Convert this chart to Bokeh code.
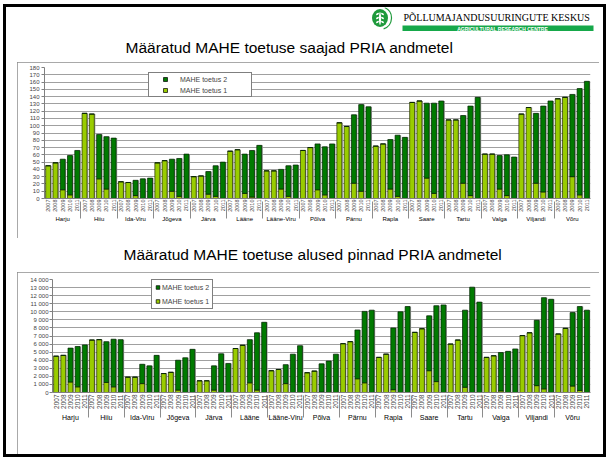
import math
from bokeh.plotting import figure
from bokeh.models import (ColumnDataSource, FactorRange, Range1d, FixedTicker,
                          Legend, LegendItem, Spacer)
from bokeh.layouts import column, row
from bokeh.transform import dodge
from bokeh.core.properties import value
from bokeh.embed import file_html
from bokeh.resources import INLINE

# ---------------- data ----------------
counties = ["Harju", "Hiiu", "Ida-Viru", "Jõgeva", "Järva", "Lääne", "Lääne-Viru",
            "Põlva", "Pärnu", "Rapla", "Saare", "Tartu", "Valga", "Viljandi", "Võru"]
years = ["2007", "2008", "2009", "2010", "2011"]
series_labels = ["MAHE toetus 2", "MAHE toetus 1"]

title_top = "Määratud MAHE toetuse saajad PRIA andmetel"
title_bottom = "Määratud MAHE toetuse alused pinnad PRIA andmetel"

# recipients (count), per county 2007..2011
saajad_toetus1 = [
    45, 49, 12, 5, 0,
    117, 116, 27, 13, 0,
    23, 22, 4, 0, 0,
    49, 52, 10, 3, 0,
    30, 31, 6, 3, 0,
    65, 67, 7, 2, 0,
    38, 38, 13, 3, 0,
    66, 70, 12, 5, 0,
    104, 99, 21, 10, 0,
    72, 75, 13, 3, 0,
    132, 134, 28, 7, 0,
    108, 108, 21, 4, 0,
    61, 61, 13, 4, 0,
    116, 125, 21, 9, 0,
    137, 139, 30, 5, 0,
]
saajad_toetus2 = [
    0, 0, 42, 54, 66,
    0, 0, 61, 72, 83,
    0, 0, 21, 27, 28,
    0, 0, 44, 52, 61,
    0, 0, 31, 42, 50,
    0, 0, 54, 64, 73,
    0, 0, 27, 42, 46,
    0, 0, 63, 66, 75,
    0, 0, 94, 119, 126,
    0, 0, 68, 84, 84,
    0, 0, 103, 124, 134,
    0, 0, 93, 123, 139,
    0, 0, 46, 56, 57,
    0, 0, 96, 118, 134,
    0, 0, 113, 146, 161,
]
# areas (ha), per county 2007..2011
pinnad_toetus1 = [
    4500, 4600, 1300, 700, 0,
    6500, 6550, 1250, 700, 0,
    1900, 1900, 1100, 0, 0,
    2350, 2500, 300, 0, 0,
    1450, 1450, 300, 0, 0,
    5450, 5850, 1200, 300, 0,
    2700, 2850, 1100, 0, 0,
    2450, 2650, 50, 0, 0,
    6050, 6300, 1700, 1200, 0,
    4350, 4750, 350, 0, 0,
    7450, 7900, 2700, 1350, 0,
    6000, 6500, 650, 0, 0,
    4350, 4550, 200, 0, 0,
    7050, 7400, 850, 450, 0,
    7250, 7950, 800, 250, 0,
]
pinnad_toetus2 = [
    0, 0, 4200, 5000, 5900,
    0, 0, 5050, 5900, 6550,
    0, 0, 2400, 3300, 4600,
    0, 0, 3700, 4300, 5350,
    0, 0, 3000, 4800, 3600,
    0, 0, 5350, 7100, 8700,
    0, 0, 2350, 4750, 5800,
    0, 0, 3500, 3900, 4750,
    0, 0, 6050, 8850, 10200,
    0, 0, 7650, 10000, 10650,
    0, 0, 6800, 9400, 10850,
    0, 0, 9550, 13050, 11200,
    0, 0, 4750, 5100, 5400,
    0, 0, 8100, 11300, 11550,
    0, 0, 9100, 10400, 10200,
]

saajad_ticks = [0, 10, 20, 30, 40, 50, 60, 70, 80, 90, 100, 110, 120, 130, 140, 150, 160, 170, 180]
saajad_tick_labels = [str(t) for t in saajad_ticks]
pinnad_ticks = [0, 1000, 2000, 3000, 4000, 5000, 6000, 7000, 8000, 9000, 10000, 11000, 12000, 13000, 14000]
pinnad_tick_labels = ["0", "1 000", "2 000", "3 000", "4 000", "5 000", "6 000", "7 000", "8 000",
                      "9 000", "10 000", "11 000", "12 000", "13 000", "14 000"]

DARK = "#007A00"
LIGHT = "#99CC00"
FONT = "Liberation Sans"


def chart(t1, t2, ymax, ticks, labels, height, left, top, bottom,
          tick_font, tick_standoff, year_font, year_standoff, group_font,
          leg_loc, leg_pad, leg_gw, leg_row, leg_spacing, leg_lw):
    factors = [(c, y) for c in counties for y in years]
    total = [a + b for a, b in zip(t1, t2)]
    src = ColumnDataSource(dict(x=factors, t1=t1, total=total,
                                hidden=[float("nan")] * len(factors)))
    xr = FactorRange(factors=factors, factor_padding=0, group_padding=0,
                     subgroup_padding=0, range_padding=0)
    p = figure(width=582, height=height, x_range=xr, y_range=Range1d(0, ymax),
               output_backend="svg", toolbar_location=None,
               min_border_left=left, min_border_right=9, min_border_top=top,
               min_border_bottom=bottom, outline_line_color=None,
               background_fill_color="white", border_fill_color="white",
               styles={"outline": "2px solid #8c8c8c", "outline-offset": "-2px"})
    p.vbar(x=dodge("x", 0.15, range=xr), top="total", width=0.68,
           fill_color="#a8a8a8", line_color=None, source=src)
    p.vbar(x="x", bottom=0, top="t1", width=0.68, fill_color=LIGHT,
           line_color="#1f2a00", line_width=0.7, source=src)
    p.vbar(x="x", bottom="t1", top="total", width=0.68, fill_color=DARK,
           line_color="#002000", line_width=0.7, source=src)

    r2 = p.scatter(x="x", y="hidden", marker="square", fill_color=DARK,
                   line_color="black", line_width=0.7, source=src)
    r1 = p.scatter(x="x", y="hidden", marker="square", fill_color=LIGHT,
                   line_color="black", line_width=0.7, source=src)
    leg = Legend(items=[LegendItem(label=series_labels[0], renderers=[r2]),
                        LegendItem(label=series_labels[1], renderers=[r1])],
                 location=leg_loc, orientation="vertical", padding=leg_pad,
                 spacing=leg_spacing, margin=0, glyph_width=leg_gw,
                 glyph_height=leg_row, label_height=leg_row, label_width=leg_lw,
                 label_standoff=0, label_text_font=FONT, label_text_font_size="7px",
                 border_line_color="black", border_line_width=1,
                 background_fill_color="white", background_fill_alpha=1)
    p.add_layout(leg)

    xa = p.xaxis[0]
    xa.major_label_orientation = math.pi / 2
    xa.major_label_text_font = FONT
    xa.major_label_text_font_size = year_font
    xa.major_label_standoff = year_standoff
    xa.group_text_font = FONT
    xa.group_text_font_size = group_font
    xa.group_text_font_style = "normal"
    xa.group_text_color = "black"
    xa.separator_line_color = "#8c8c8c"
    xa.separator_line_width = 1
    xa.major_tick_line_color = None
    xa.major_tick_out = 0
    xa.axis_line_color = "#808080"

    ya = p.yaxis[0]
    ya.ticker = FixedTicker(ticks=ticks)
    ya.major_label_overrides = {t: l for t, l in zip(ticks, labels)}
    ya.major_label_text_font = FONT
    ya.major_label_text_font_size = tick_font
    ya.major_label_standoff = tick_standoff
    ya.major_tick_out = 3
    ya.major_tick_in = 0
    ya.minor_tick_line_color = None
    ya.axis_line_color = "#808080"
    ya.major_tick_line_color = "#808080"

    p.ygrid.grid_line_color = "#a0a0a0"
    p.xgrid.grid_line_color = None
    return p


# ---------------- header (logo + title 1) ----------------
header = figure(width=597, height=55, x_range=Range1d(0, 597), y_range=Range1d(55, 0),
                x_axis_type=None, y_axis_type=None, output_backend="svg",
                toolbar_location=None, min_border=0, outline_line_color=None)
LOGO_GREEN = "#1f9a3c"
header.ellipse(x=[373.5], y=[10.5], width=[16], height=[18], fill_color=LOGO_GREEN, line_color=None)
header.arc(x=[373.5], y=[10.5], radius=11.5, start_angle=-1.25, end_angle=1.15,
           line_color=LOGO_GREEN, line_width=1.2)
header.ellipse(x=[373.5], y=[11], width=[2.2], height=[13], fill_color="white", line_color=None)
header.ellipse(x=[371, 376, 371, 376, 371, 376], y=[6.5, 6.5, 10.5, 10.5, 14.5, 14.5],
               width=[3.2] * 6, height=[1.8] * 6, angle=[0.6, -0.6, 0.6, -0.6, 0.6, -0.6],
               fill_color="white", line_color=None)
header.text(x=[397], y=[9.5], text=["PÕLLUMAJANDUSUURINGUTE  KESKUS"],
            text_font=value("Liberation Serif"), text_font_size=value("10px"),
            text_baseline="middle", text_align="left", text_color="black")
header.quad(left=[396], right=[587], top=[18], bottom=[23.5], fill_color="#16a84a", line_color=None)
header.text(x=[496], y=[21], text=["AGRICULTURAL RESEARCH CENTRE"],
            text_font=value(FONT), text_font_size=value("5px"), text_font_style="bold",
            text_baseline="middle", text_align="center", text_color="white")
header.text(x=[119], y=[40], text=[title_top], text_font=value(FONT),
            text_font_size=value("15.5px"), text_baseline="middle", text_align="left",
            text_color="black")

# ---------------- title 2 ----------------
title2 = figure(width=597, height=34, x_range=Range1d(0, 597), y_range=Range1d(34, 0),
                x_axis_type=None, y_axis_type=None, output_backend="svg",
                toolbar_location=None, min_border=0, outline_line_color=None)
title2.text(x=[117], y=[16], text=[title_bottom], text_font=value(FONT),
            text_font_size=value("15.5px"), text_baseline="middle", text_align="left",
            text_color="black")

# ---------------- charts ----------------
c1 = chart(saajad_toetus1, saajad_toetus2, 180, saajad_ticks, saajad_tick_labels,
           height=176, left=27, top=5, bottom=40, tick_font="6px", tick_standoff=2,
           year_font="5.5px", year_standoff=1, group_font="6px",
           leg_loc=(104, 101), leg_pad=1, leg_gw=30, leg_row=10, leg_spacing=1, leg_lw=70)
c2 = chart(pinnad_toetus1, pinnad_toetus2, 14000, pinnad_ticks, pinnad_tick_labels,
           height=182, left=35, top=7, bottom=62, tick_font="6px", tick_standoff=1,
           year_font="6.5px", year_standoff=2, group_font="7px",
           leg_loc=(99, 83), leg_pad=1, leg_gw=9, leg_row=12, leg_spacing=2, leg_lw=49)

page = column(header,
              row(Spacer(width=11, height=176), c1),
              title2,
              row(Spacer(width=11, height=182), c2),
              margin=(7, 0, 0, 6),
              styles={"outline": "3px solid black", "background": "white"})

open("out.html", "w").write(file_html(page, INLINE))
